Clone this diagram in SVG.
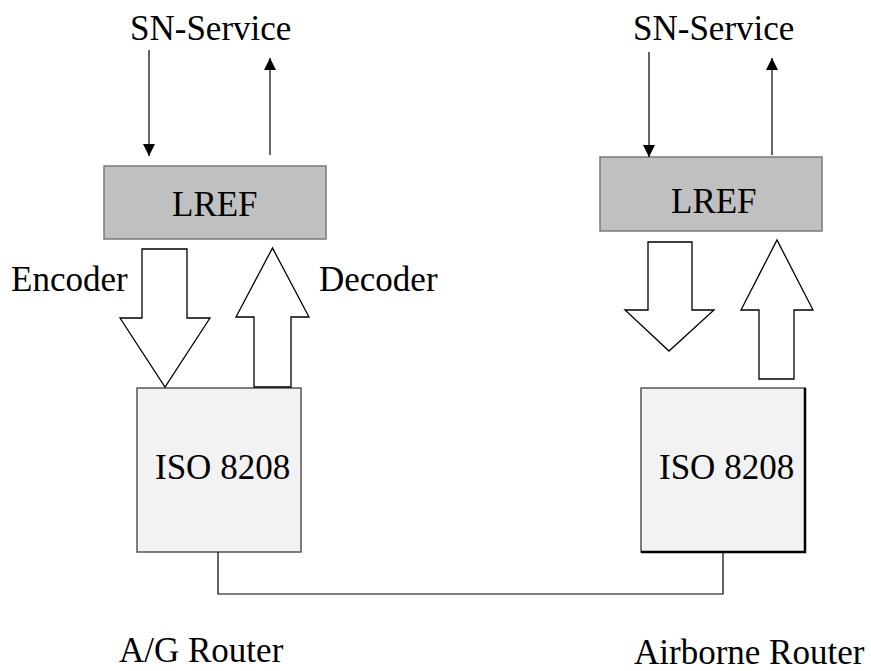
<svg xmlns="http://www.w3.org/2000/svg" width="871" height="671" viewBox="0 0 871 671">
<style>
text{font-family:'Liberation Serif','Times New Roman','DejaVu Serif',serif;font-size:35px;fill:#000}
.lref{fill:#c0c0c0;stroke:#7a7a7a;stroke-width:1.5}
.iso{fill:#f2f2f2;stroke:#555;stroke-width:1.5}
.big{fill:#fff;stroke:#000;stroke-width:1.3;stroke-linejoin:miter}
.ln{fill:none;stroke:#000;stroke-width:1.2}
</style>
<defs>
<marker id="ah" viewBox="0 0 10 10" refX="10" refY="5" markerWidth="12" markerHeight="14" markerUnits="userSpaceOnUse" orient="auto">
<path d="M0,0 L10,5 L0,10 z" fill="#000"/>
</marker>
</defs>
<rect width="871" height="671" fill="#fff"/>

<g id="sn-left"><text x="130" y="40">SN-Service</text></g>
<g id="sn-right"><text x="633" y="40">SN-Service</text></g>

<g id="lref-left"><rect class="lref" x="104" y="166" width="222" height="73"/><text x="172" y="216">LREF</text></g>
<g id="lref-right"><rect class="lref" x="600" y="157" width="222" height="74"/><text x="671" y="213">LREF</text></g>

<g id="iso-left"><rect class="iso" x="137" y="388" width="164" height="164"/><text x="155" y="479">ISO 8208</text></g>
<g id="iso-right"><rect class="iso" x="641" y="388" width="164" height="164"/><path d="M805,388 V552 H641" fill="none" stroke="#000" stroke-width="2.5"/><text x="659" y="479">ISO 8208</text></g>

<g id="label-encoder"><text x="11" y="291">Encoder</text></g>
<g id="label-decoder"><text x="319" y="291">Decoder</text></g>
<g id="label-ag"><text x="119" y="662">A/G Router</text></g>
<g id="label-airborne"><text x="634" y="664">Airborne Router</text></g>

<g id="connectors">
<line class="ln" x1="149" y1="50" x2="149" y2="156" marker-end="url(#ah)" stroke="#555"/>
<line class="ln" x1="270" y1="155" x2="270" y2="58" marker-end="url(#ah)"/>
<line class="ln" x1="649" y1="52" x2="649" y2="157" marker-end="url(#ah)"/>
<line class="ln" x1="772" y1="155" x2="772" y2="58" marker-end="url(#ah)" stroke="#555"/>
<path class="big" d="M142,249 H187 V318 H210 L165,387 L120,318 H142 Z"/>
<path class="big" d="M254,387 V317 H236 L272.5,248 L309,317 H291 V387 Z"/>
<path class="big" d="M648,242 H692 V310 H714 L669,351 L625,310 H648 Z"/>
<path class="big" d="M759,379 V310 H741 L777,240 L813,310 H794 V379 Z"/>
<path class="ln" d="M218,552 V594 H723 V552" stroke="#333"/>
</g>
</svg>
